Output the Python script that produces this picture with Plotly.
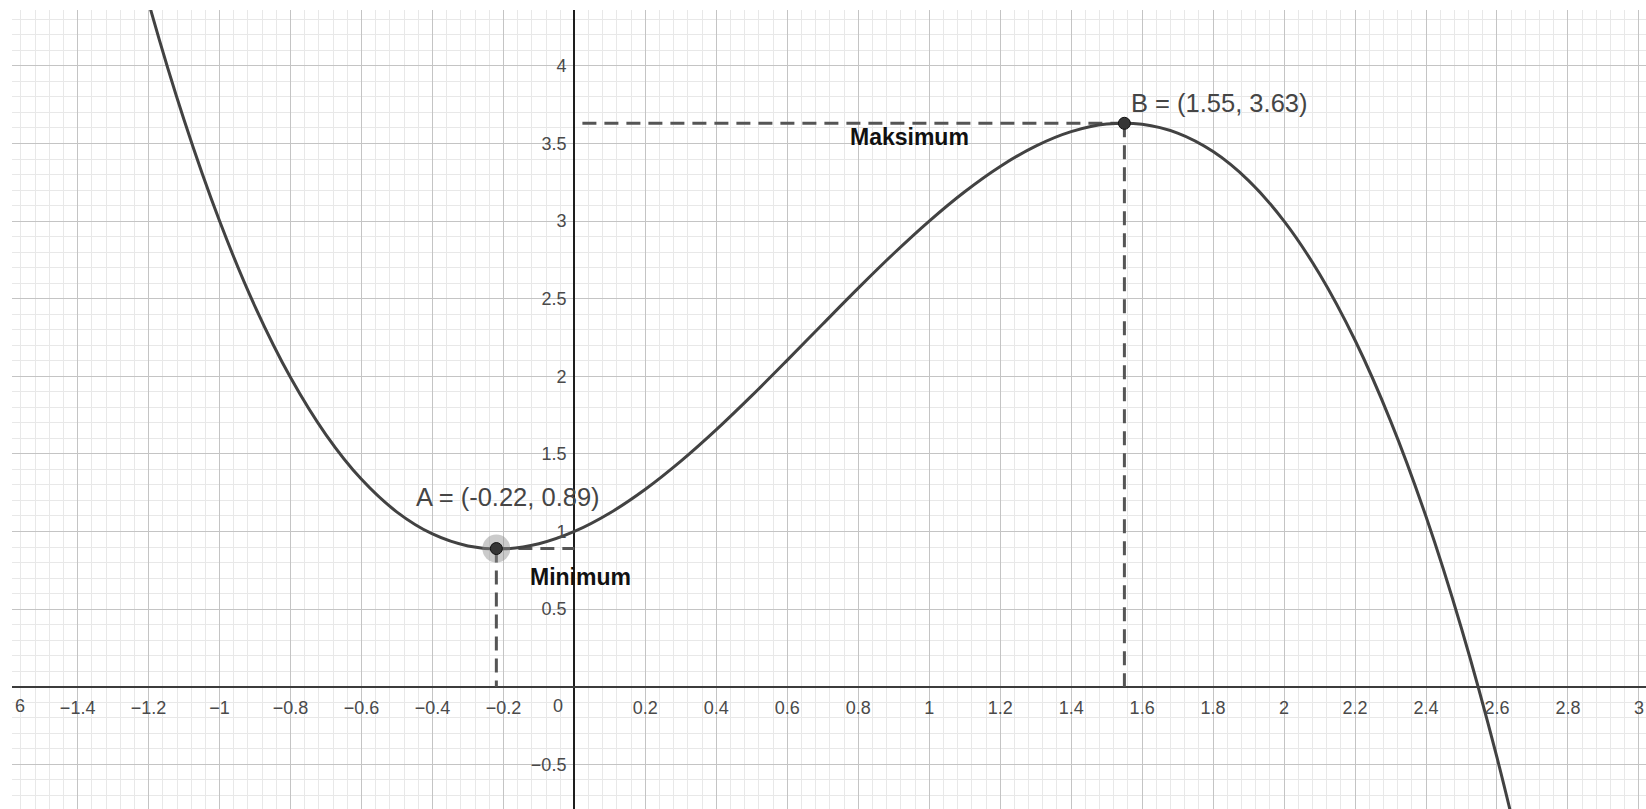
import plotly.graph_objects as go

# Sampled curve values y(x)
curve_x = [-1.3, -1.2, -1.1, -1.0, -0.9, -0.8, -0.7, -0.6, -0.5, -0.4, -0.3, -0.2, -0.1,
           0.0, 0.1, 0.2, 0.3, 0.4, 0.5, 0.6, 0.7, 0.8, 0.9, 1.0, 1.1, 1.2, 1.3, 1.4,
           1.5, 1.6, 1.7, 1.8, 1.9, 2.0, 2.1, 2.2, 2.3, 2.4, 2.5, 2.6, 2.7]
curve_y = [5.277, 4.408, 3.651, 3.0, 2.449, 1.992, 1.623, 1.336, 1.125, 0.984, 0.907, 0.888, 0.921,
           1.0, 1.119, 1.272, 1.453, 1.656, 1.875, 2.104, 2.337, 2.568, 2.791, 3.0, 3.189, 3.352, 3.483, 3.576,
           3.625, 3.624, 3.567, 3.448, 3.261, 3.0, 2.659, 2.232, 1.713, 1.096, 0.375, -0.456, -1.403]

# Extremum points
point_a = (-0.22, 0.89)
point_b = (1.55, 3.63)

# Axis ticks (0 is labelled separately, beside the origin)
x_tickvals = [-1.4, -1.2, -1.0, -0.8, -0.6, -0.4, -0.2, 0.2, 0.4, 0.6, 0.8, 1.0, 1.2, 1.4,
              1.6, 1.8, 2.0, 2.2, 2.4, 2.6, 2.8, 3.0]
x_ticktext = ["\u22121.4", "\u22121.2", "\u22121", "\u22120.8", "\u22120.6", "\u22120.4", "\u22120.2",
              "0.2", "0.4", "0.6", "0.8", "1", "1.2", "1.4", "1.6", "1.8", "2", "2.2", "2.4",
              "2.6", "2.8", "3"]
y_tickvals = [-0.5, 0.5, 1.0, 1.5, 2.0, 2.5, 3.0, 3.5, 4.0]
y_ticktext = ["\u22120.5", "0.5", "1", "1.5", "2", "2.5", "3", "3.5", "4"]

x_range = [-1.585, 3.02]
y_range = [-0.788, 4.36]

FONT = "Liberation Sans, Arial, sans-serif"
DASH = "14px,8px"
DASH_COLOR = "#555555"
MAJOR_GRID = "#c4c4c4"
MINOR_GRID = "#e8e8e8"
TICK_COLOR = "#4a4a4a"

fig = go.Figure()

# dashed guides from the extrema to the axes
for px_, py_ in (point_a, point_b):
    fig.add_trace(go.Scatter(x=[px_, 0], y=[py_, py_], mode="lines",
                             line=dict(color=DASH_COLOR, width=3, dash=DASH),
                             hoverinfo="skip", showlegend=False))
    fig.add_trace(go.Scatter(x=[px_, px_], y=[py_, 0], mode="lines",
                             line=dict(color=DASH_COLOR, width=3, dash=DASH),
                             hoverinfo="skip", showlegend=False))

# the function graph
fig.add_trace(go.Scatter(x=curve_x, y=curve_y, mode="lines",
                         line=dict(color="#424242", width=3, shape="spline"),
                         hoverinfo="skip", showlegend=False))

# highlight halo around A
fig.add_trace(go.Scatter(x=[point_a[0]], y=[point_a[1]], mode="markers",
                         marker=dict(size=28, color="rgba(140,140,140,0.45)", line=dict(width=0)),
                         hoverinfo="skip", showlegend=False))

# extremum points
fig.add_trace(go.Scatter(x=[point_a[0], point_b[0]], y=[point_a[1], point_b[1]], mode="markers",
                         marker=dict(size=12, color="#363636", line=dict(color="#111111", width=1)),
                         hoverinfo="skip", showlegend=False))

annotations = [
    dict(x=point_a[0], y=point_a[1], text=f"A = ({point_a[0]:.2f}, {point_a[1]:.2f})",
         xanchor="left", yanchor="middle", xshift=-82, yshift=52,
         font=dict(family=FONT, size=25.5, color="#454545")),
    dict(x=point_a[0], y=point_a[1], text="<b>Minimum</b>",
         xanchor="left", yanchor="middle", xshift=32, yshift=-28,
         font=dict(family=FONT, size=23, color="#111111")),
    dict(x=point_b[0], y=point_b[1], text=f"B = ({point_b[0]:.2f}, {point_b[1]:.2f})",
         xanchor="left", yanchor="middle", xshift=5, yshift=20,
         font=dict(family=FONT, size=25.5, color="#454545")),
    dict(x=point_b[0], y=point_b[1], text="<b>Maksimum</b>",
         xanchor="left", yanchor="middle", xshift=-276, yshift=-14,
         font=dict(family=FONT, size=23, color="#111111")),
    # origin label
    dict(x=0, y=0, text="0", xanchor="center", yanchor="middle", xshift=-16, yshift=-19,
         font=dict(family=FONT, size=18, color=TICK_COLOR)),
    # label of the -1.6 tick, cut off by the left edge
    dict(x=x_range[0], y=0, text="6", xanchor="left", yanchor="middle", xshift=1, yshift=-19,
         font=dict(family=FONT, size=18, color=TICK_COLOR)),
]
for a in annotations:
    a.update(showarrow=False, xref="x", yref="y")

x_axis_pos = (0 - y_range[0]) / (y_range[1] - y_range[0])
y_axis_pos = (0 - x_range[0]) / (x_range[1] - x_range[0])

fig.update_layout(
    width=1646, height=809,
    margin=dict(l=12, r=0, t=10, b=0),
    paper_bgcolor="white", plot_bgcolor="white",
    showlegend=False, hovermode=False,
    annotations=annotations,
    xaxis=dict(
        range=x_range, anchor="free", position=x_axis_pos,
        tickmode="array", tickvals=x_tickvals, ticktext=x_ticktext,
        ticks="", ticklabelstandoff=8,
        tickfont=dict(family=FONT, size=18, color=TICK_COLOR),
        showgrid=True, gridcolor=MAJOR_GRID, gridwidth=1,
        minor=dict(tickmode="linear", tick0=0, dtick=0.04, showgrid=True,
                   gridcolor=MINOR_GRID, gridwidth=1, ticks=""),
        zeroline=True, zerolinecolor="#1e1e1e", zerolinewidth=1.5,
        showline=False, fixedrange=True,
    ),
    yaxis=dict(
        range=y_range, anchor="free", position=y_axis_pos,
        tickmode="array", tickvals=y_tickvals, ticktext=y_ticktext,
        ticks="", ticklabelstandoff=8,
        tickfont=dict(family=FONT, size=18, color=TICK_COLOR),
        showgrid=True, gridcolor=MAJOR_GRID, gridwidth=1,
        minor=dict(tickmode="linear", tick0=0, dtick=0.1, showgrid=True,
                   gridcolor=MINOR_GRID, gridwidth=1, ticks=""),
        zeroline=True, zerolinecolor="#3c3c3c", zerolinewidth=2.2,
        showline=False, fixedrange=True,
    ),
)

fig.write_html("out.html", config={"displayModeBar": False})
